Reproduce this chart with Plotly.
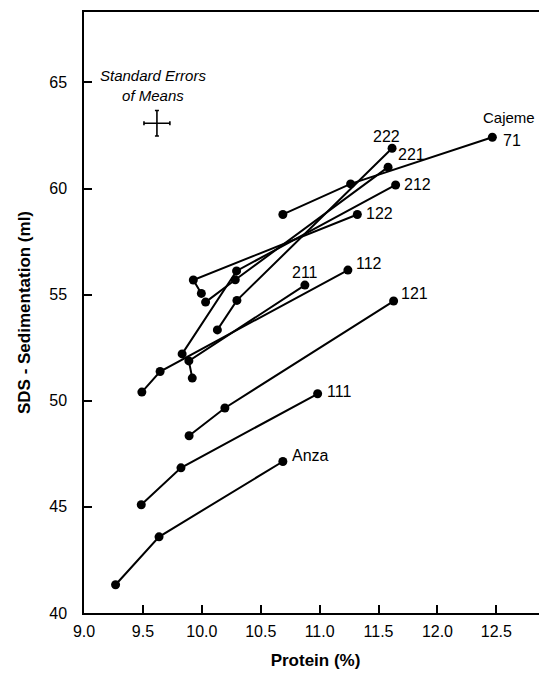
import plotly.graph_objects as go

# ---- data (protein %, SDS sedimentation ml) ----
line_labels = ["Anza", "111", "121", "112", "211", "122", "212", "221", "222", "Cajeme 71"]

protein = {
    "Anza":      [9.268, 9.637, 10.688],
    "111":       [9.486, 9.823, 10.983],
    "121":       [9.892, 10.196, 11.628],
    "112":       [9.491, 9.646, 11.240],
    "211":       [9.919, 9.890, 10.875],
    "122":       [9.996, 9.928, 11.320],
    "212":       [9.833, 10.295, 11.645],
    "221":       [10.032, 10.284, 11.581],
    "222":       [10.132, 10.298, 11.615],
    "Cajeme 71": [10.688, 11.263, 12.466],
}
sds = {
    "Anza":      [41.33, 43.59, 47.14],
    "111":       [45.10, 46.84, 50.33],
    "121":       [48.35, 49.66, 54.70],
    "112":       [50.41, 51.38, 56.16],
    "211":       [51.07, 51.88, 55.45],
    "122":       [55.06, 55.69, 58.78],
    "212":       [52.21, 56.12, 60.17],
    "221":       [54.65, 55.70, 61.01],
    "222":       [53.34, 54.73, 61.90],
    "Cajeme 71": [58.78, 60.22, 62.42],
}

se_center_protein = [9.619]
se_center_sds = [63.08]
se_protein = 0.11
se_sds = 0.6

x_ticks = [9.0, 9.5, 10.0, 10.5, 11.0, 11.5, 12.0, 12.5]
y_ticks = [40, 45, 50, 55, 60, 65]

# ---- style ----
FONT = "Liberation Sans, Arial, Helvetica, sans-serif"
label_offsets = {  # pixel offsets of end labels from their points
    "Anza": (28, 6), "111": (21, 2), "121": (21, 8), "112": (21, 7),
    "211": (0, 13), "122": (22, 1), "212": (22, 0), "221": (23, 13),
    "222": (-6, 12),
}

fig = go.Figure()
for name in line_labels:
    fig.add_trace(go.Scatter(
        x=protein[name], y=sds[name], mode="lines+markers", name=name,
        line=dict(color="black", width=2),
        marker=dict(color="black", size=9),
        showlegend=False,
    ))

fig.add_trace(go.Scatter(
    x=se_center_protein, y=se_center_sds, mode="markers",
    marker=dict(size=1, color="rgba(0,0,0,0)"),
    error_x=dict(type="constant", value=se_protein, color="black", thickness=1.6, width=2),
    error_y=dict(type="constant", value=se_sds, color="black", thickness=1.6, width=2),
    showlegend=False, hoverinfo="skip",
))

annotations = []
for name, (dx, dy) in label_offsets.items():
    annotations.append(dict(
        x=protein[name][-1], y=sds[name][-1], xref="x", yref="y",
        text=name, showarrow=False, xshift=dx, yshift=dy,
        font=dict(family=FONT, size=16, color="black"),
    ))
annotations.append(dict(
    x=protein["Cajeme 71"][-1], y=sds["Cajeme 71"][-1], xref="x", yref="y",
    text="Cajeme", showarrow=False, xshift=17, yshift=20,
    font=dict(family=FONT, size=15, color="black"),
))
annotations.append(dict(
    x=protein["Cajeme 71"][-1], y=sds["Cajeme 71"][-1], xref="x", yref="y",
    text="71", showarrow=False, xshift=20, yshift=-3,
    font=dict(family=FONT, size=16, color="black"),
))
annotations.append(dict(
    x=se_center_protein[0], y=se_center_sds[0], xref="x", yref="y",
    text="<i>Standard Errors</i><br><i>of Means</i>", showarrow=False,
    yshift=38, xshift=-4, align="center",
    font=dict(family=FONT, size=15, color="black"),
))

# page body has an 8px margin: size the figure so the plot area lands where it should
fig.update_layout(
    width=539, height=667,
    margin=dict(l=76, r=0, t=4, b=62),
    plot_bgcolor="white", paper_bgcolor="white",
    font=dict(family=FONT, size=16, color="black"),
    annotations=annotations,
    xaxis=dict(
        range=[9.0, 12.93], tickvals=x_ticks, tickformat=".1f",
        ticks="inside", ticklen=8, tickwidth=1.5, tickcolor="black",
        showline=True, linecolor="black", linewidth=1.5, mirror=True,
        showgrid=False, zeroline=False,
        title=dict(text="<b>Protein (%)</b>", font=dict(size=17), standoff=15),
        tickfont=dict(size=16), ticklabelstandoff=3,
    ),
    yaxis=dict(
        range=[40, 68.32], tickvals=y_ticks,
        ticks="inside", ticklen=8, tickwidth=1.5, tickcolor="black",
        showline=True, linecolor="black", linewidth=1.5, mirror=False,
        showgrid=False, zeroline=False,
        title=dict(text="<b>SDS - Sedimentation (ml)</b>", font=dict(size=17), standoff=14),
        tickfont=dict(size=16), ticklabelstandoff=12,
    ),
)

fig.write_html("out.html")
